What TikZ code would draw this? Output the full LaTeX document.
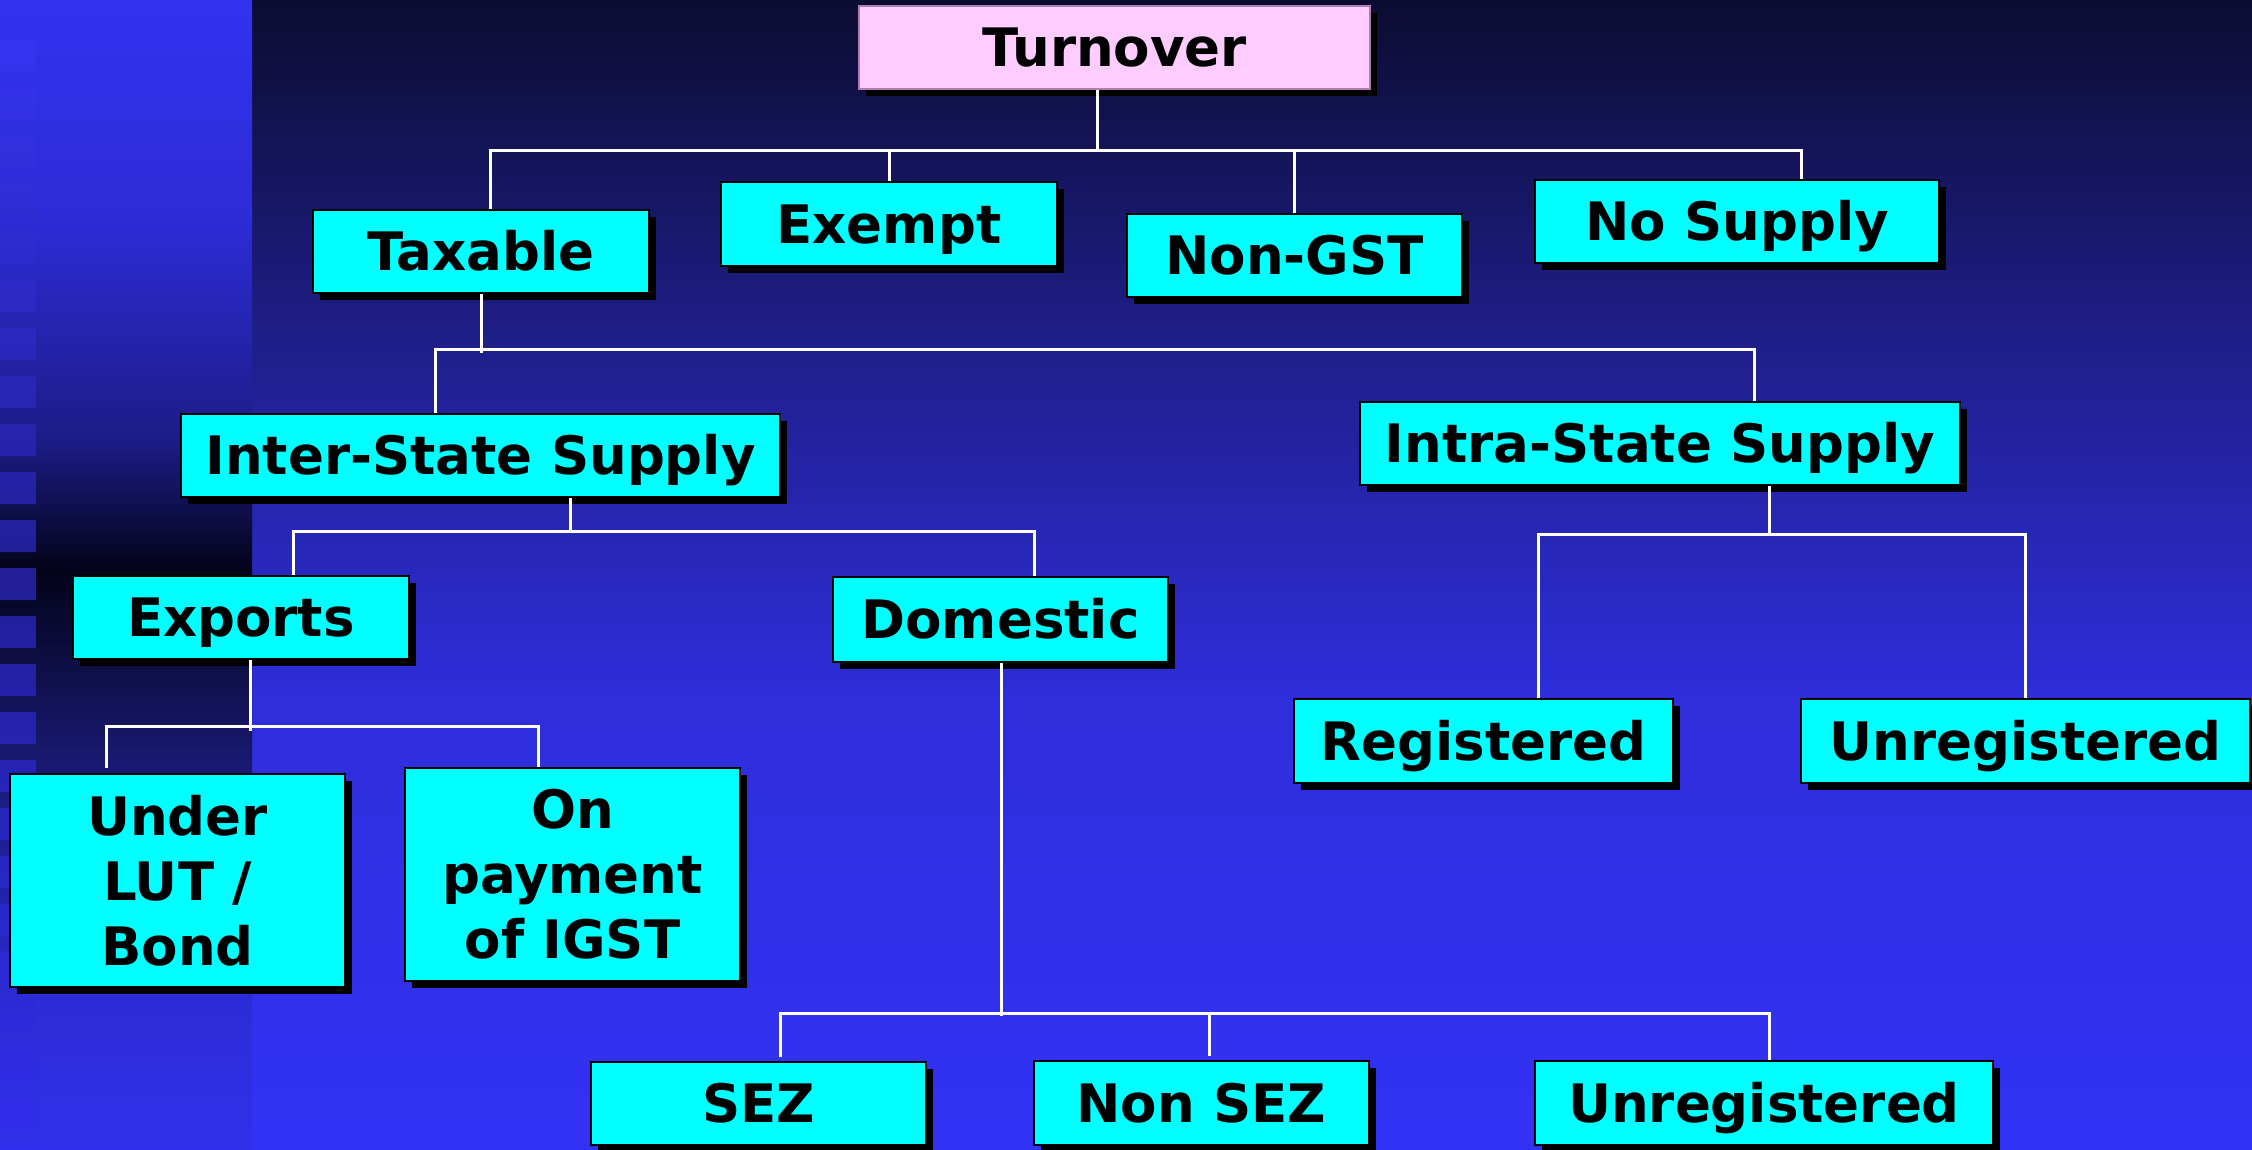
\documentclass[tikz,border=0pt]{standalone}
\usepackage{fontspec}
\setmainfont{DejaVu Sans}
\usetikzlibrary{shadows}
\definecolor{mA}{RGB}{12,12,50}
\definecolor{mB}{RGB}{30,30,135}
\definecolor{mC}{RGB}{46,46,220}
\definecolor{mD}{RGB}{50,50,245}
\definecolor{s0}{RGB}{50,50,240}
\definecolor{s1}{RGB}{44,44,215}
\definecolor{s2}{RGB}{28,28,135}
\definecolor{s3}{RGB}{3,3,25}
\definecolor{s4}{RGB}{22,22,100}
\definecolor{s5}{RGB}{44,44,215}
\definecolor{s6}{RGB}{48,48,235}
\definecolor{q0}{RGB}{54,54,248}
\definecolor{q1}{RGB}{33,30,150}
\definecolor{q2}{RGB}{48,46,238}
\definecolor{boxcyan}{RGB}{0,255,255}
\definecolor{boxpink}{RGB}{255,204,255}
\definecolor{pinkedge}{RGB}{175,125,175}
\begin{document}
\begin{tikzpicture}[x=1pt,y=-1pt,
  basebox/.style={draw=black, line width=1.5pt, fill=boxcyan, inner sep=0pt,
    font=\fontsize{53}{65}\selectfont\bfseries, text=black,
    drop shadow={shadow xshift=7pt, shadow yshift=-7pt, opacity=1, fill=black}},
  cbox/.style={basebox, text height=38.6pt, text depth=0pt},
  tallbox/.style={basebox, align=center},
  pinkbox/.style={cbox, fill=boxpink, draw=pinkedge},
  conn/.style={draw=white, line width=3pt, line join=miter}]
\useasboundingbox (0,0) rectangle (2252,1149);
% main background
\shade[top color=mA, bottom color=mB] (251,0) rectangle (2253,330.5);
\shade[top color=mB, bottom color=mC] (251,330) rectangle (2253,700.5);
\shade[top color=mC, bottom color=mD] (251,700) rectangle (2253,1149);
% left strip
\shade[top color=s0, bottom color=s1] (0,0) rectangle (252,220.5);
\shade[top color=s1, bottom color=s2] (0,220) rectangle (252,440.5);
\shade[top color=s2, bottom color=s3] (0,440) rectangle (252,570.5);
\shade[top color=s3, bottom color=s4] (0,570) rectangle (252,730.5);
\shade[top color=s4, bottom color=s5] (0,730) rectangle (252,1000.5);
\shade[top color=s5, bottom color=s6] (0,1000) rectangle (252,1149);
% squares column
\begin{scope}
\path[clip] \foreach \k in {0,...,23} { (0,40+48*\k) rectangle (36,72+48*\k) };
\shade[top color=q0, bottom color=q1] (0,0) rectangle (36,570.5);
\shade[top color=q1, bottom color=q2] (0,570) rectangle (36,1149);
\end{scope}

% nodes
\node[pinkbox, minimum width=511pt, minimum height=83pt] (turn) at (1114.5,47.5) {Turnover};
\node[cbox, minimum width=336pt, minimum height=83pt] (tax) at (481,251.5) {Taxable};
\node[cbox, minimum width=336pt, minimum height=84pt] (exe) at (889,224) {Exempt};
\node[cbox, minimum width=335pt, minimum height=83pt] (ngst) at (1294.5,255.5) {Non-GST};
\node[cbox, minimum width=404pt, minimum height=83pt] (nos) at (1737,221.5) {No Supply};
\node[cbox, minimum width=599pt, minimum height=83pt] (inter) at (480.5,455.5) {Inter-State Supply};
\node[cbox, minimum width=600pt, minimum height=83pt] (intra) at (1660,443.5) {Intra-State Supply};
\node[cbox, minimum width=336pt, minimum height=83pt] (exp) at (241,617.5) {Exports};
\node[cbox, minimum width=335pt, minimum height=85pt] (dom) at (1000.5,619.5) {Domestic};
\node[cbox, minimum width=379pt, minimum height=84pt] (reg) at (1483.5,741) {Registered};
\node[cbox, minimum width=449pt, minimum height=84pt] (unrA) at (2025.5,741) {Unregistered};
\node[tallbox, minimum width=335pt, minimum height=213pt] (lut) at (177.5,880.5) {Under\\LUT /\\Bond};
\node[tallbox, minimum width=335pt, minimum height=213pt] (igst) at (572.5,874.5) {On\\payment\\of IGST};
\node[cbox, minimum width=335pt, minimum height=83pt] (sez) at (758.5,1103.5) {SEZ};
\node[cbox, minimum width=335pt, minimum height=84pt] (nsez) at (1201.5,1103) {Non SEZ};
\node[cbox, minimum width=458pt, minimum height=84pt] (unrB) at (1764,1103) {Unregistered};

% connectors: Turnover
\coordinate (t0) at (1097,150);
\coordinate (t1) at (490,150);
\coordinate (t2) at (889,150);
\coordinate (t3) at (1294,150);
\coordinate (t4) at (1801,150);
\draw[conn] (turn.south -| t0) -- (t0);
\draw[conn] (tax.north -| t1) -- (t1) -- (t4) -- (nos.north -| t4);
\draw[conn] (t2) -- (exe.north -| t2);
\draw[conn] (t3) -- (ngst.north -| t3);
% Taxable
\coordinate (x0) at (481,353);
\coordinate (x1) at (435,349);
\coordinate (x2) at (1754,349);
\draw[conn] (tax.south) -- (x0);
\draw[conn] (inter.north -| x1) -- (x1) -- (x2) -- (intra.north -| x2);
% Inter-State
\coordinate (i0) at (570,531);
\coordinate (i1) at (293,531);
\coordinate (i2) at (1034,531);
\draw[conn] (inter.south -| i0) -- (i0);
\draw[conn] (exp.north -| i1) -- (i1) -- (i2) -- (dom.north -| i2);
% Intra-State
\coordinate (r0) at (1769,534);
\coordinate (r1) at (1538,534);
\coordinate (r2) at (2025,534);
\draw[conn] (intra.south -| r0) -- (r0);
\draw[conn] (reg.north -| r1) -- (r1) -- (r2) -- (unrA.north -| r2);
% Exports
\coordinate (e0) at (250,731);
\coordinate (e1) at (106,726);
\coordinate (e2) at (538,726);
\draw[conn] (exp.south -| e0) -- (e0);
\draw[conn] ([yshift=5pt]lut.north -| e1) -- (e1) -- (e2) -- (igst.north -| e2);
% Domestic
\coordinate (d0) at (1001,1016);
\coordinate (d1) at (780,1013);
\coordinate (d2) at (1209,1013);
\coordinate (d3) at (1769,1013);
\draw[conn] (dom.south -| d0) -- (d0);
\draw[conn] ([yshift=4pt]sez.north -| d1) -- (d1) -- (d3) -- (unrB.north -| d3);
\draw[conn] (d2) -- ([yshift=4pt]nsez.north -| d2);
\end{tikzpicture}
\end{document}
